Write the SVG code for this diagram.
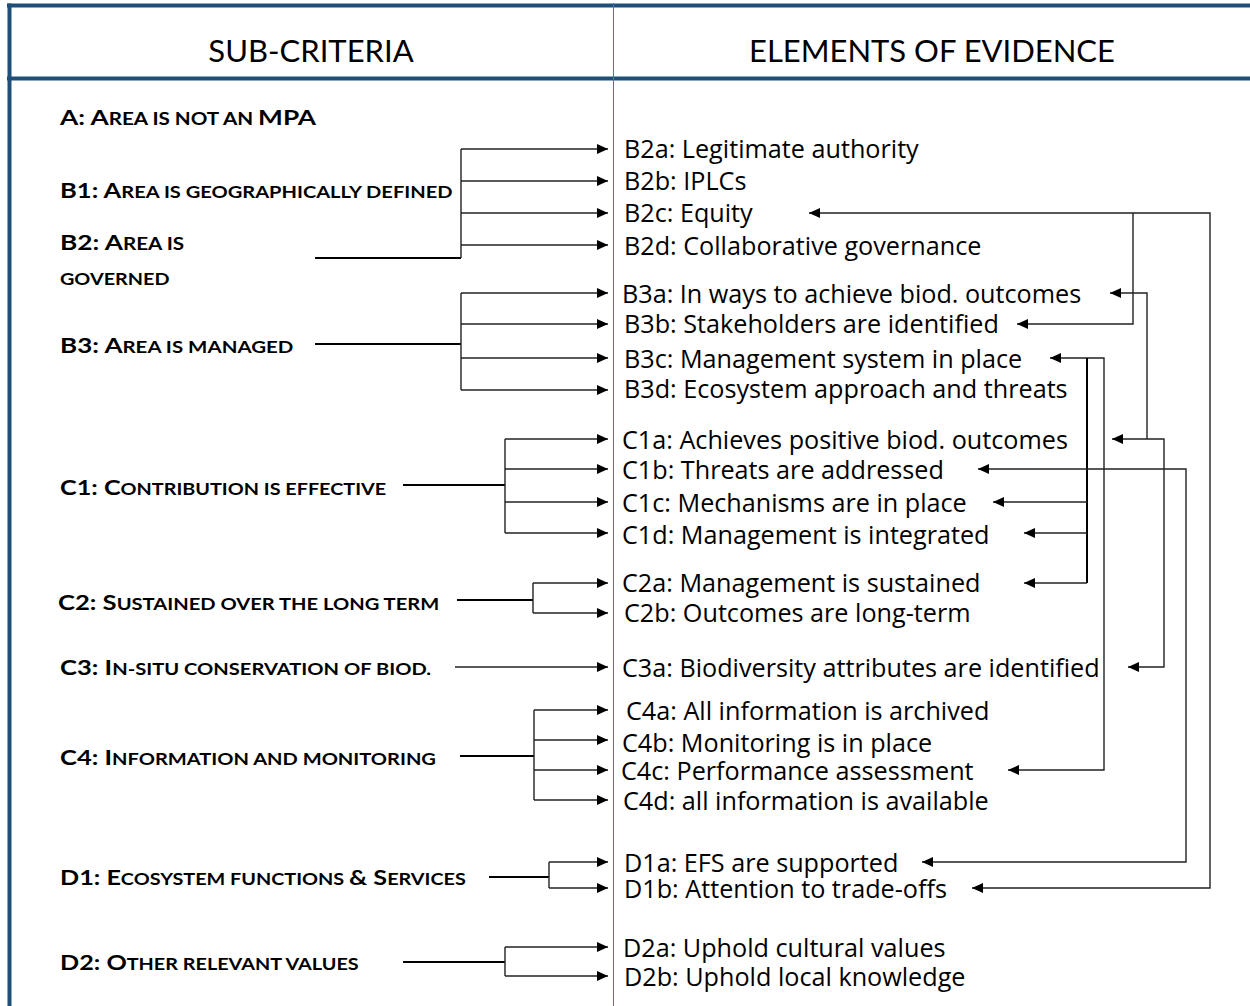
<svg xmlns="http://www.w3.org/2000/svg" width="1250" height="1006" viewBox="0 0 1250 1006">
  <style>
    .hdr { font-family: Lato, "Liberation Sans", sans-serif; font-size: 31px; fill: #000; }
    .lbl { font-family: Lato, "Liberation Sans", sans-serif; font-weight: bold; fill: #000; }
    .big { font-size: 21px; }
    .sm { font-size: 16.5px; }
    .ev { font-family: "Open Sans", "Noto Sans", sans-serif; font-size: 25.2px; fill: #000; }
    .frame { stroke: #1F4E79; stroke-width: 4; fill: none; }
    .col { stroke: #4472C4; stroke-width: 1; fill: none; }
    .ln { stroke: #222; stroke-width: 1.4; fill: none; }
    .stem { stroke: #000; stroke-width: 2; fill: none; }
    .arr { marker-end: url(#head); }
    .both { marker-start: url(#head); marker-end: url(#head); }
  </style>
  <defs>
    <marker id="head" markerUnits="userSpaceOnUse" markerWidth="12" markerHeight="11" refX="11" refY="5" orient="auto-start-reverse">
      <path d="M0,0 L11,5 L0,10 Z" fill="#000"/>
    </marker>
  </defs>

  <rect width="1250" height="1006" fill="#fff"/>

  <!-- table frame -->
  <g id="frame">
    <line class="frame" x1="7" y1="5.5" x2="1250" y2="5.5"/>
    <line class="frame" x1="7" y1="78.5" x2="1250" y2="78.5"/>
    <line class="frame" x1="9.5" y1="3.5" x2="9.5" y2="1006"/>
    <line class="col" x1="613.5" y1="3" x2="613.5" y2="1006"/>
  </g>

  <!-- column headings -->
  <g id="headings">
    <text class="hdr" x="311" y="62" text-anchor="middle">SUB-CRITERIA</text>
    <text class="hdr" x="932" y="62" text-anchor="middle">ELEMENTS OF EVIDENCE</text>
  </g>

  <!-- sub-criteria (small caps, set a little wide) -->
  <g id="sub-a"><text class="lbl" transform="translate(60,125) scale(1.25,1)"><tspan class="big">A: A</tspan><tspan class="sm">REA IS NOT AN </tspan><tspan class="big">MPA</tspan></text></g>
  <g id="sub-b1"><text class="lbl" transform="translate(60,198) scale(1.217,1)"><tspan class="big">B1: A</tspan><tspan class="sm">REA IS GEOGRAPHICALLY DEFINED</tspan></text></g>
  <g id="sub-b2">
    <text class="lbl" transform="translate(60,250) scale(1.25,1)"><tspan class="big">B2: A</tspan><tspan class="sm">REA IS</tspan></text>
    <text class="lbl" transform="translate(60,285) scale(1.2,1)"><tspan class="sm">GOVERNED</tspan></text>
  </g>
  <g id="sub-b3"><text class="lbl" transform="translate(60,353) scale(1.24,1)"><tspan class="big">B3: A</tspan><tspan class="sm">REA IS MANAGED</tspan></text></g>
  <g id="sub-c1"><text class="lbl" transform="translate(60,495) scale(1.2,1)"><tspan class="big">C1: C</tspan><tspan class="sm">ONTRIBUTION IS EFFECTIVE</tspan></text></g>
  <g id="sub-c2"><text class="lbl" transform="translate(58,610) scale(1.22,1)"><tspan class="big">C2: S</tspan><tspan class="sm">USTAINED OVER THE LONG TERM</tspan></text></g>
  <g id="sub-c3"><text class="lbl" transform="translate(60,675) scale(1.22,1)"><tspan class="big">C3: I</tspan><tspan class="sm">N-SITU CONSERVATION OF BIOD.</tspan></text></g>
  <g id="sub-c4"><text class="lbl" transform="translate(60,765) scale(1.217,1)"><tspan class="big">C4: I</tspan><tspan class="sm">NFORMATION AND MONITORING</tspan></text></g>
  <g id="sub-d1"><text class="lbl" transform="translate(60,885) scale(1.2,1)"><tspan class="big">D1: E</tspan><tspan class="sm">COSYSTEM FUNCTIONS </tspan><tspan class="big">&amp; S</tspan><tspan class="sm">ERVICES</tspan></text></g>
  <g id="sub-d2"><text class="lbl" transform="translate(60,970) scale(1.2,1)"><tspan class="big">D2: O</tspan><tspan class="sm">THER RELEVANT VALUES</tspan></text></g>

  <!-- elements of evidence -->
  <g id="ev-b2a"><text class="ev" x="624" y="158">B2a: Legitimate authority</text></g>
  <g id="ev-b2b"><text class="ev" x="624" y="190">B2b: IPLCs</text></g>
  <g id="ev-b2c"><text class="ev" x="624" y="222">B2c: Equity</text></g>
  <g id="ev-b2d"><text class="ev" x="624" y="255">B2d: Collaborative governance</text></g>
  <g id="ev-b3a"><text class="ev" x="622" y="303">B3a: In ways to achieve biod. outcomes</text></g>
  <g id="ev-b3b"><text class="ev" x="624" y="333">B3b: Stakeholders are identified</text></g>
  <g id="ev-b3c"><text class="ev" x="624" y="368">B3c: Management system in place</text></g>
  <g id="ev-b3d"><text class="ev" x="624" y="398">B3d: Ecosystem approach and threats</text></g>
  <g id="ev-c1a"><text class="ev" x="622" y="449">C1a: Achieves positive biod. outcomes</text></g>
  <g id="ev-c1b"><text class="ev" x="622" y="479">C1b: Threats are addressed</text></g>
  <g id="ev-c1c"><text class="ev" x="622" y="512">C1c: Mechanisms are in place</text></g>
  <g id="ev-c1d"><text class="ev" x="622" y="544">C1d: Management is integrated</text></g>
  <g id="ev-c2a"><text class="ev" x="622" y="592">C2a: Management is sustained</text></g>
  <g id="ev-c2b"><text class="ev" x="624" y="622">C2b: Outcomes are long-term</text></g>
  <g id="ev-c3a"><text class="ev" x="622" y="677">C3a: Biodiversity attributes are identified</text></g>
  <g id="ev-c4a"><text class="ev" x="626" y="720">C4a: All information is archived</text></g>
  <g id="ev-c4b"><text class="ev" x="622" y="752">C4b: Monitoring is in place</text></g>
  <g id="ev-c4c"><text class="ev" x="621" y="780">C4c: Performance assessment</text></g>
  <g id="ev-c4d"><text class="ev" x="623" y="810">C4d: all information is available</text></g>
  <g id="ev-d1a"><text class="ev" x="624" y="872">D1a: EFS are supported</text></g>
  <g id="ev-d1b"><text class="ev" x="624" y="898">D1b: Attention to trade-offs</text></g>
  <g id="ev-d2a"><text class="ev" x="623" y="957">D2a: Uphold cultural values</text></g>
  <g id="ev-d2b"><text class="ev" x="624" y="986">D2b: Uphold local knowledge</text></g>

  <!-- connectors -->
  <g id="connectors">
    <!-- B2 tree -->
    <path class="stem" d="M315,258 H461"/>
    <path class="ln" d="M461,149 V258"/>
    <path class="ln arr" d="M461,149 H608"/>
    <path class="ln arr" d="M461,181 H608"/>
    <path class="ln arr" d="M461,213 H608"/>
    <path class="ln arr" d="M461,245 H608"/>
    <!-- B3 tree -->
    <path class="stem" d="M315,344 H461"/>
    <path class="ln" d="M461,293 V390"/>
    <path class="ln arr" d="M461,293 H608"/>
    <path class="ln arr" d="M461,324 H608"/>
    <path class="ln arr" d="M461,358 H608"/>
    <path class="ln arr" d="M461,390 H608"/>
    <!-- C1 tree -->
    <path class="stem" d="M403,485 H505"/>
    <path class="ln" d="M505,439 V533"/>
    <path class="ln arr" d="M505,439 H608"/>
    <path class="ln arr" d="M505,469 H608"/>
    <path class="ln arr" d="M505,502 H608"/>
    <path class="ln arr" d="M505,533 H608"/>
    <!-- C2 tree -->
    <path class="stem" d="M457,600 H533"/>
    <path class="ln" d="M533,583 V613"/>
    <path class="ln arr" d="M533,583 H608"/>
    <path class="ln arr" d="M533,613 H608"/>
    <!-- C3 -->
    <path class="ln arr" d="M455,667 H608"/>
    <!-- C4 tree -->
    <path class="stem" d="M460,756 H534"/>
    <path class="ln" d="M534,710 V800"/>
    <path class="ln arr" d="M534,710 H608"/>
    <path class="ln arr" d="M534,740 H608"/>
    <path class="ln arr" d="M534,770 H608"/>
    <path class="ln arr" d="M534,800 H608"/>
    <!-- D1 tree -->
    <path class="stem" d="M489,877 H549"/>
    <path class="ln" d="M549,862 V888"/>
    <path class="ln arr" d="M549,862 H608"/>
    <path class="ln arr" d="M549,888 H608"/>
    <!-- D2 tree -->
    <path class="stem" d="M403,962 H505"/>
    <path class="ln" d="M505,947 V976"/>
    <path class="ln arr" d="M505,947 H608"/>
    <path class="ln arr" d="M505,976 H608"/>

    <!-- cross links between elements of evidence -->
    <path class="ln both" d="M809,213 H1210 V888 H972"/>
    <path class="ln arr" d="M1133,213 V324 H1017"/>
    <path class="ln" d="M1110,293 H1147 V439" style="marker-start:url(#head)"/>
    <path class="ln both" d="M1112,439 H1164 V667 H1128"/>
    <path class="ln both" d="M1050,358 H1104 V770 H1008"/>
    <path class="stem" d="M1087,358 V583"/>
    <path class="ln arr" d="M1087,502 H993"/>
    <path class="ln arr" d="M1087,533 H1024"/>
    <path class="ln arr" d="M1087,583 H1024"/>
    <path class="ln both" d="M978,469 H1186 V862 H922"/>
  </g>
</svg>
